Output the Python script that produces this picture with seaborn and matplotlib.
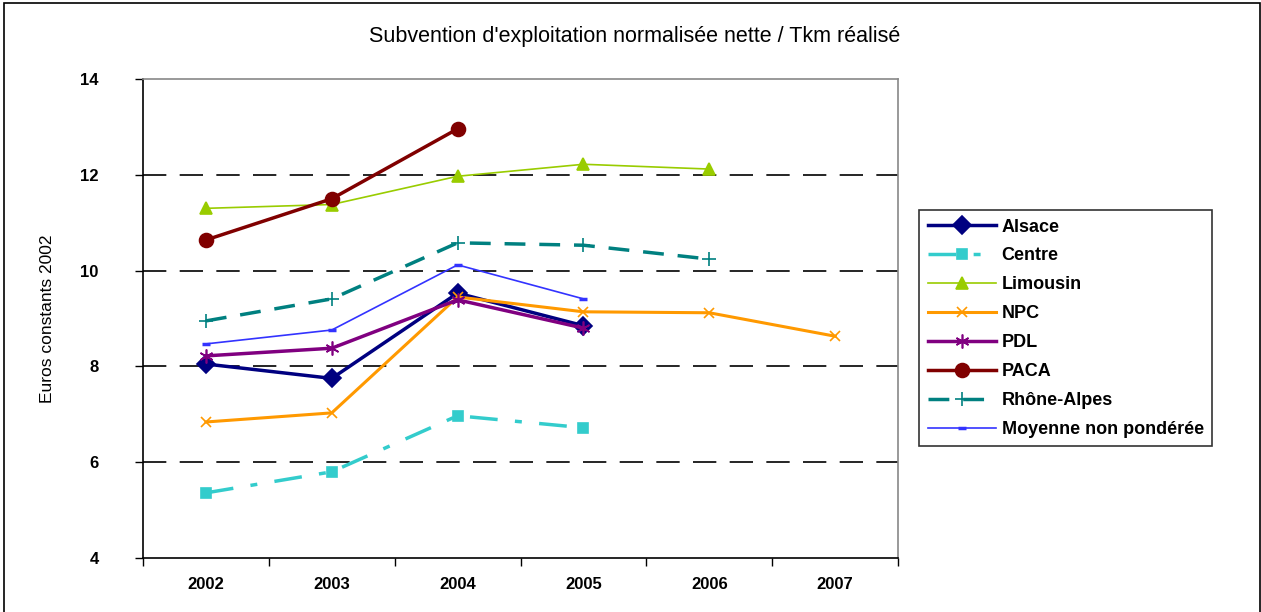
import pandas as pd
import numpy as np
import matplotlib
matplotlib.use("Agg")
import matplotlib.pyplot as plt
import seaborn as sns

# ── Données ───────────────────────────────────────────────────────────────────
years = ["2002", "2003", "2004", "2005", "2006", "2007"]
alsace   = [8.05, 7.75, 9.53, 8.85, None, None]
centre   = [5.36, 5.80, 6.97, 6.72, None, None]
limousin = [11.30, 11.38, 11.97, 12.22, 12.12, None]
npc      = [6.84, 7.03, 9.45, 9.14, 9.12, 8.63]
pdl      = [8.22, 8.38, 9.39, 8.80, None, None]
paca     = [10.64, 11.50, 12.96, None, None, None]
rhone    = [8.95, 9.41, 10.58, 10.53, 10.24, None]
moyenne  = [8.47, 8.76, 10.12, 9.41, None, None]

series = [
    ("Alsace", alsace, dict(color="#000080", lw=2.5, marker="D", ms=9, ls="-")),
    ("Centre", centre, dict(color="#33CCCC", lw=2.5, marker="s", ms=7, ls=(0, (8, 5, 2, 5)))),
    ("Limousin", limousin, dict(color="#99CC00", lw=1.2, marker="^", ms=8, ls="-")),
    ("NPC", npc, dict(color="#FF9900", lw=2.2, marker="x", ms=7, ls="-")),
    ("PDL", pdl, dict(color="#800080", lw=2.5, marker=(6, 2, 0), ms=10, ls="-")),
    ("PACA", paca, dict(color="#800000", lw=2.5, marker="o", ms=10, ls="-")),
    ("Rhône-Alpes", rhone, dict(color="#008080", lw=2.5, marker="+", ms=10, ls=(0, (6, 4)))),
    ("Moyenne non pondérée", moyenne, dict(color="#3333FF", lw=1.2, marker="_", ms=6, ls="-")),
]

plt.rcParams["font.family"] = ["Liberation Sans", "DejaVu Sans"]

fig = plt.figure(figsize=(12.61, 6.12), dpi=100)
ax = fig.add_axes([0.1134, 0.0882, 0.5988, 0.7827])

for name, vals, st in series:
    df = pd.DataFrame({"x": np.arange(len(years)), "y": vals}).dropna()
    sns.lineplot(data=df, x="x", y="y", ax=ax, label=name,
                 color=st["color"], linewidth=st["lw"], linestyle=st["ls"],
                 marker=st["marker"], markersize=st["ms"],
                 markeredgecolor=st["color"], markerfacecolor=st["color"],
                 markeredgewidth=2.5 if st["marker"] == "_" else 1.2)

ax.set_xlim(-0.5, 5.5)
ax.set_ylim(4, 14)
ax.set_yticks([4, 6, 8, 10, 12, 14])
ax.set_yticklabels(["4", "6", "8", "10", "12", "14"], fontweight="bold", fontsize=12)
ax.set_xticks(range(len(years)))
ax.set_xticklabels(years, fontweight="bold", fontsize=12)
ax.set_xticks(np.arange(-0.5, 6.0, 1.0), minor=True)
ax.tick_params(axis="x", which="major", length=0, pad=14)
ax.tick_params(axis="x", which="minor", length=6, width=1, color="black")
ax.tick_params(axis="y", length=6, width=1, pad=26)
ax.set_xlabel("")
ax.set_ylabel("Euros constants 2002", fontsize=12.5, labelpad=18)

for yv in [6, 8, 10, 12]:
    ax.axhline(yv, color="black", lw=1.2, ls=(0, (14, 8)), zorder=0)

for s in ["left", "bottom"]:
    ax.spines[s].set_color("black")
    ax.spines[s].set_linewidth(1.2)
for s in ["top", "right"]:
    ax.spines[s].set_color("#888888")
    ax.spines[s].set_linewidth(1.2)

fig.text(0.503, 0.94, "Subvention d'exploitation normalisée nette / Tkm réalisé",
         ha="center", va="center", fontsize=15.5)

leg = ax.legend(loc="upper left", bbox_to_anchor=(0.722, 0.671), bbox_transform=fig.transFigure,
                frameon=True, fancybox=False, edgecolor="black", handlelength=3.8,
                labelspacing=0.66, borderpad=0.45, handletextpad=0.3,
                prop={"weight": "bold", "size": 13})
leg.get_frame().set_linewidth(1.2)

# cadre extérieur
fig.patches.append(plt.Rectangle((0.003, -0.01), 0.996, 1.005, transform=fig.transFigure,
                                 fill=False, edgecolor="black", lw=1.2))

fig.savefig("out.png", dpi=100)
